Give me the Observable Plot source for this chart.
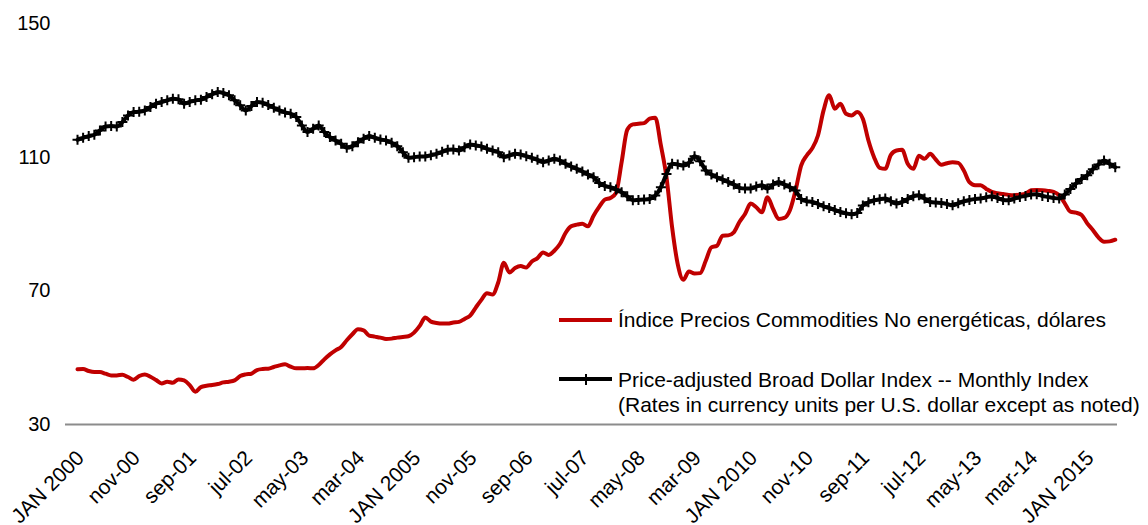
<!DOCTYPE html>
<html>
<head>
<meta charset="utf-8">
<script src="https://cdn.jsdelivr.net/npm/d3@7"></script>
<script src="https://cdn.jsdelivr.net/npm/@observablehq/plot@0.6"></script>
<style>
  html, body { margin: 0; padding: 0; background: #fff; }
  #wrap { position: relative; width: 1148px; height: 525px; overflow: hidden; font-family: "Liberation Sans", Arial, sans-serif; }
  .lg-text { position: absolute; font-size: 21px; line-height: 25px; color: #000; white-space: nowrap; }
  .lg-line { position: absolute; height: 4px; }
  .lg-tick { position: absolute; width: 2px; height: 11px; background: #000; }
</style>
</head>
<body>
<div id="wrap"></div>
<script>
// Tick labels (every 10 months starting JAN 2000)
const tickLabels = ["JAN 2000","nov-00","sep-01","jul-02","may-03","mar-04","JAN 2005","nov-05","sep-06","jul-07","may-08","mar-09","JAN 2010","nov-10","sep-11","jul-12","may-13","mar-14","JAN 2015"];
const yTicks = [30, 70, 110, 150];

const seriesNames = [
  "Índice Precios Commodities No energéticas, dólares",
  "Price-adjusted Broad Dollar Index -- Monthly Index",
  "(Rates in currency units per U.S. dollar except as noted)"
];

// Monthly values, Jan 2000 – Jun 2015
const commodities = [
  46.5,46.6,46.0,45.7,45.7,45.2,44.7,44.7,44.9,44.2,
  43.4,44.5,45.0,44.3,43.3,42.3,42.8,42.5,43.5,43.2,
  41.8,39.8,41.2,41.6,41.8,42.1,42.6,42.8,43.2,44.5,
  45.0,45.2,46.3,46.6,46.7,47.2,47.7,48.0,47.3,46.8,
  46.8,46.9,46.8,47.8,49.5,51.0,52.2,53.2,55.2,57.0,
  58.5,58.2,56.6,56.3,56.0,55.6,55.7,56.0,56.2,56.4,
  57.5,59.5,62.0,60.8,60.4,60.2,60.2,60.5,60.7,61.6,
  62.6,65.0,67.3,69.3,68.9,72.5,78.4,75.5,76.8,77.4,
  77.0,78.8,79.8,81.5,80.7,82.0,84.0,87.3,89.3,89.8,
  90.1,89.3,92.5,95.1,97.3,97.8,99.3,108.5,118.2,119.8,
  120.0,120.2,121.5,121.8,113.5,104.0,89.0,78.0,73.3,75.8,
  75.2,75.3,79.0,83.0,83.5,86.5,86.6,87.5,90.6,93.0,
  96.1,95.0,93.5,98.0,94.5,91.5,91.8,94.1,100.0,107.5,
  110.5,112.7,116.5,124.0,128.5,124.5,126.0,123.0,122.5,123.5,
  121.5,115.0,110.0,106.8,106.5,110.7,112.0,112.2,108.0,106.5,
  110.4,109.5,111.0,109.3,107.7,108.2,108.5,108.3,106.0,102.5,
  101.6,101.6,100.5,99.6,99.2,99.0,98.7,98.6,98.8,99.1,
  100.1,100.2,100.1,99.9,99.6,98.6,96.2,93.7,93.4,92.7,
  90.2,88.2,86.0,84.7,84.8,85.3
];

const dollarIndex = [
  115.2,115.8,116.3,116.7,118.0,119.2,119.3,119.2,120.5,122.5,
  123.5,123.6,124.0,125.0,126.0,126.5,127.0,127.5,127.3,126.0,
  126.5,127.0,127.2,128.0,128.8,129.5,129.2,128.5,127.0,125.5,
  124.0,125.3,126.5,126.3,125.6,124.8,124.0,123.4,123.0,122.0,
  119.5,117.5,118.5,119.5,117.5,116.0,115.0,114.0,112.8,113.3,
  114.5,115.5,116.3,115.8,115.3,115.0,114.3,113.3,111.5,109.8,
  110.0,110.2,110.2,110.6,111.0,111.6,112.2,112.3,112.0,113.0,
  113.8,113.5,113.2,112.5,112.0,111.5,110.0,110.5,111.0,110.8,
  110.3,109.8,109.2,108.5,109.0,109.5,109.0,108.0,107.2,106.5,
  105.7,104.8,104.0,102.3,101.4,101.0,100.3,99.5,98.3,97.1,
  97.2,97.3,97.5,98.5,101.0,105.0,108.0,107.8,107.5,108.3,
  110.3,108.8,106.0,104.8,104.0,103.3,102.6,101.8,100.8,100.6,
  100.6,101.2,101.6,100.6,101.8,102.6,101.8,101.0,100.0,97.5,
  96.8,96.6,96.0,95.3,94.8,94.2,93.6,93.2,92.9,93.3,
  95.5,96.5,97.1,97.4,97.6,96.8,96.1,96.6,97.5,98.3,
  98.6,97.6,96.6,96.4,96.3,96.0,95.6,96.2,96.8,97.2,
  97.5,97.6,98.0,98.3,97.8,97.2,97.1,97.6,98.1,98.4,
  98.8,98.9,98.4,98.1,97.8,97.6,98.8,100.5,102.1,103.5,
  104.6,106.4,107.8,109.0,108.0,107.0
];

const redColor = "#c00000";

const comData = commodities.map((v, i) => ({i, v}));
const dolData = dollarIndex.map((v, i) => ({i, v}));
const tickIdx = tickLabels.map((_, k) => k * 10);

const plusSymbol = {
  draw(ctx, size) {
    const r = Math.sqrt(size / Math.PI);
    ctx.moveTo(-r, 0); ctx.lineTo(r, 0);
    ctx.moveTo(0, -r); ctx.lineTo(0, r);
  }
};

const chart = Plot.plot({
  width: 1148,
  height: 525,
  marginTop: 23,
  marginBottom: 101,
  marginLeft: 65,
  marginRight: 31,
  style: {fontFamily: "'Liberation Sans', Arial, sans-serif", fontSize: "20px", color: "#000", background: "#fff"},
  x: {type: "linear", domain: [-2.14, 185.4]},
  y: {domain: [30, 150]},
  marks: [
    Plot.ruleY([30], {stroke: "#8c8c8c", strokeWidth: 2}),
    Plot.axisY({ticks: yTicks, tickSize: 0, tickPadding: 15, label: null, fontSize: 20}),
    Plot.axisX({ticks: tickIdx, tickFormat: (d) => tickLabels[Math.round(d / 10)], tickRotate: -45, tickSize: 0, tickPadding: 30, dx: 3, label: null, fontSize: 21}),
    Plot.line(comData, {x: "i", y: "v", stroke: redColor, strokeWidth: 4, curve: "monotone-x"}),
    Plot.line(dolData, {x: "i", y: "v", stroke: "#000", strokeWidth: 4, curve: "monotone-x"}),
    Plot.dot(dolData, {x: "i", y: "v", symbol: plusSymbol, r: 5, stroke: "#000", strokeWidth: 2, fill: "none"})
  ]
});

const wrap = document.getElementById("wrap");
wrap.appendChild(chart);

// Legend (inside plot area)
function addEl(cls, css, text) {
  const el = document.createElement("div");
  el.className = cls;
  Object.assign(el.style, css);
  if (text) el.textContent = text;
  wrap.appendChild(el);
  return el;
}
addEl("lg-line", {left: "559px", top: "317.5px", width: "53px", background: redColor});
addEl("lg-text", {left: "618px", top: "307px"}, seriesNames[0]);
addEl("lg-line", {left: "559px", top: "377px", width: "53px", background: "#000"});
addEl("lg-tick", {left: "585px", top: "373.5px"});
addEl("lg-text", {left: "618px", top: "367px"}, seriesNames[1]);
addEl("lg-text", {left: "618px", top: "392px"}, seriesNames[2]);
</script>
</body>
</html>
